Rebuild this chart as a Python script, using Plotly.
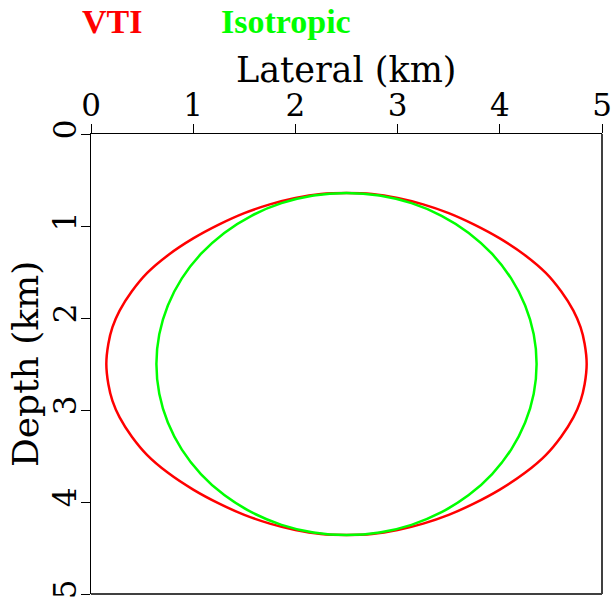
import plotly.graph_objects as go

# VTI wavefront (lateral km, depth km), traced clockwise from the top
vti_x = [2.50, 2.75, 3.00, 3.25, 3.50, 3.75, 4.00, 4.25, 4.45, 4.60, 4.72, 4.79, 4.83, 4.85,
         4.83, 4.79, 4.72, 4.60, 4.45, 4.25, 4.00, 3.75, 3.50, 3.25, 3.00, 2.75, 2.50,
         2.25, 2.00, 1.75, 1.50, 1.25, 1.00, 0.75, 0.55, 0.40, 0.28, 0.21, 0.17, 0.15,
         0.17, 0.21, 0.28, 0.40, 0.55, 0.75, 1.00, 1.25, 1.50, 1.75, 2.00, 2.25, 2.50]
vti_depth = [0.642, 0.652, 0.695, 0.765, 0.860, 0.985, 1.135, 1.320, 1.510, 1.710, 1.920, 2.100, 2.280, 2.500,
             2.720, 2.900, 3.080, 3.290, 3.490, 3.680, 3.865, 4.015, 4.140, 4.235, 4.305, 4.348, 4.358,
             4.348, 4.305, 4.235, 4.140, 4.015, 3.865, 3.680, 3.490, 3.290, 3.080, 2.900, 2.720, 2.500,
             2.280, 2.100, 1.920, 1.710, 1.510, 1.320, 1.135, 0.985, 0.860, 0.765, 0.695, 0.652, 0.642]

# Isotropic wavefront (lateral km, depth km)
iso_x = [2.500, 2.823, 3.136, 3.430, 3.696, 3.925, 4.111, 4.248, 4.332, 4.360,
         4.332, 4.248, 4.111, 3.925, 3.696, 3.430, 3.136, 2.823, 2.500,
         2.177, 1.864, 1.570, 1.304, 1.075, 0.889, 0.752, 0.668, 0.640,
         0.668, 0.752, 0.889, 1.075, 1.304, 1.570, 1.864, 2.177, 2.500]
iso_depth = [0.640, 0.668, 0.752, 0.889, 1.075, 1.304, 1.570, 1.864, 2.177, 2.500,
             2.823, 3.136, 3.430, 3.696, 3.925, 4.111, 4.248, 4.332, 4.360,
             4.332, 4.248, 4.111, 3.925, 3.696, 3.430, 3.136, 2.823, 2.500,
             2.177, 1.864, 1.570, 1.304, 1.075, 0.889, 0.752, 0.668, 0.640]

lateral_ticks = [0, 1, 2, 3, 4, 5]
depth_ticks = [0, 1, 2, 3, 4, 5]

FONT = "DejaVu Serif"
KEY_FONT = "Liberation Serif"

fig = go.Figure()
fig.add_trace(go.Scatter(x=vti_x, y=vti_depth, mode="lines", name="VTI",
                         line=dict(color="#ff0000", width=2.5, shape="spline", smoothing=1.0)))
fig.add_trace(go.Scatter(x=iso_x, y=iso_depth, mode="lines", name="Isotropic",
                         line=dict(color="#00ff00", width=2.5, shape="spline", smoothing=1.0)))

fig.update_layout(
    width=611, height=604,
    margin=dict(l=91, r=9, t=134, b=10, pad=0),
    paper_bgcolor="white", plot_bgcolor="white",
    showlegend=False,
    font=dict(family=FONT, color="black"),
    xaxis=dict(
        side="top", range=[0, 5], tickvals=lateral_ticks, automargin=False,
        ticks="outside", ticklen=9, tickwidth=1, tickcolor="black",
        showline=True, linecolor="black", linewidth=1,
        showgrid=False, zeroline=False,
        ticklabeloverflow="allow", ticklabelstandoff=-4,
        tickfont=dict(family=FONT, size=31, color="black"),
    ),
    yaxis=dict(
        range=[5, 0], tickvals=depth_ticks, tickangle=-90, automargin=False,
        ticks="outside", ticklen=9, tickwidth=1, tickcolor="black",
        showline=True, linecolor="black", linewidth=1,
        showgrid=False, zeroline=False,
        ticklabeloverflow="allow", ticklabelstandoff=-7,
        tickfont=dict(family=FONT, size=31, color="black"),
    ),
)

# right and bottom frame edges
fig.add_shape(type="line", xref="paper", yref="paper", x0=1, x1=1, y0=0, y1=1,
              line=dict(color="#404040", width=2))
fig.add_shape(type="line", xref="paper", yref="paper", x0=0, x1=1, y0=0, y1=0,
              line=dict(color="#404040", width=2))

# axis titles
fig.add_annotation(text="Lateral (km)", xref="paper", yref="paper", x=0.5, y=1.139,
                   xanchor="center", yanchor="middle", showarrow=False,
                   font=dict(family=FONT, size=35, color="black"))
fig.add_annotation(text="Depth (km)", xref="paper", yref="paper", x=-0.129, y=0.5,
                   xanchor="center", yanchor="middle", showarrow=False, textangle=-90,
                   font=dict(family=FONT, size=36, color="black"))

# colour key above the plot
fig.add_annotation(text="<b>VTI</b>", xref="paper", yref="paper", x=-0.022, y=1.245,
                   xanchor="left", yanchor="middle", showarrow=False,
                   font=dict(family=KEY_FONT, size=34, color="#ff0000"))
fig.add_annotation(text="<b>Isotropic</b>", xref="paper", yref="paper", x=0.250, y=1.245,
                   xanchor="left", yanchor="middle", showarrow=False,
                   font=dict(family=KEY_FONT, size=34, color="#00ff00"))

fig.write_html("out.html")
